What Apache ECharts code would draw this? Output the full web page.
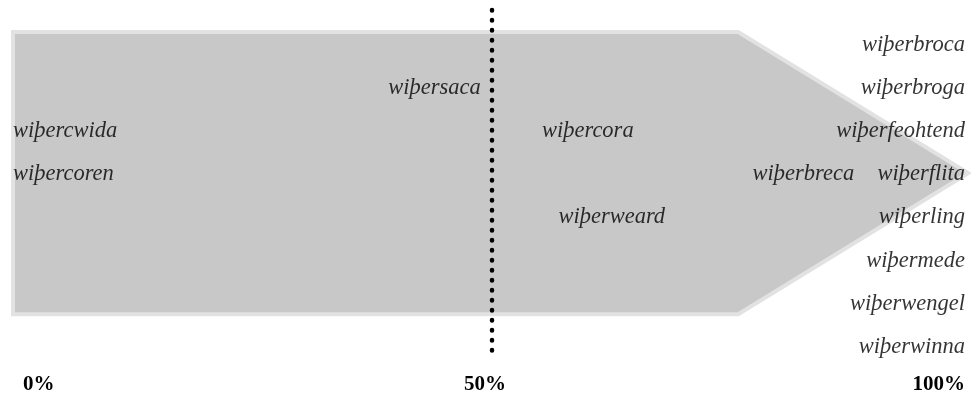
<!DOCTYPE html>
<html>
<head>
<meta charset="utf-8">
<script src="https://cdn.jsdelivr.net/npm/echarts@6/dist/echarts.min.js"></script>
<style>
  html, body { margin: 0; padding: 0; background: #fff; }
  #chart { width: 971px; height: 402px; }
</style>
</head>
<body>
<div id="chart"></div>
<script>
// words, their share on the 0-100% scale and the row they sit in
const words = ['wiþerbroca', 'wiþerbroga', 'wiþerfeohtend', 'wiþerflita', 'wiþerling', 'wiþermede',
  'wiþerwengel', 'wiþerwinna', 'wiþersaca', 'wiþercwida', 'wiþercora', 'wiþercoren', 'wiþerbreca', 'wiþerweard'];
const shares = [100, 100, 100, 100, 100, 100, 100, 100, 44, 0, 60, 0, 82.5, 62.5];
const rows = [1, 2, 3, 4, 5, 6, 7, 8, 2, 3, 3, 4, 4, 5];
const tickValues = [0, 50, 100];
const midLine = 50;
const midLineRows = [0.19, 8.19];
// arrow outline in data units [share, row]
const arrowPoints = [[0, 0.7], [75.7, 0.7], [99.7, 3.97], [75.7, 7.24], [0, 7.24]];

const chart = echarts.init(document.getElementById('chart'));

const serif = '"Liberation Serif", "Times New Roman", serif';

const wordData = words.map((w, i) => {
  const v = shares[i];
  let pos = 'inside';
  if (v === 0) pos = 'right';
  if (v === 100) pos = 'left';
  return {
    name: w,
    value: [v, rows[i]],
    label: { position: pos, distance: v === 100 ? 6 : 0 }
  };
});

const option = {
  animation: false,
  grid: { left: 13, right: 0, top: 45, bottom: 55 },
  xAxis: {
    type: 'value',
    min: 0,
    max: 100,
    interval: 50,
    splitLine: { show: false },
    axisLine: { show: false },
    axisTick: { show: false },
    axisLabel: {
      margin: 27,
      alignMinLabel: 'left',
      alignMaxLabel: 'right',
      formatter: function (v) {
        if (v === tickValues[0]) return '{a|' + v + '%}';
        if (v === tickValues[2]) return '{c|' + v + '%}';
        return '{b|' + v + '%}';
      },
      rich: {
        a: { fontFamily: serif, fontWeight: 'bold', fontSize: 21, color: '#000', padding: [0, 0, 0, 10] },
        b: { fontFamily: serif, fontWeight: 'bold', fontSize: 21, color: '#000', padding: [0, 14, 0, 0] },
        c: { fontFamily: serif, fontWeight: 'bold', fontSize: 21, color: '#000', padding: [0, 6, 0, 0] }
      }
    }
  },
  yAxis: {
    type: 'value',
    inverse: true,
    min: 1,
    max: 8,
    show: false
  },
  series: [
    {
      type: 'custom',
      silent: true,
      z: 1,
      clip: false,
      renderItem: function (params, api) {
        const pts = arrowPoints.map(p => api.coord(p));
        return {
          type: 'polygon',
          shape: { points: pts },
          style: {
            fill: '#c8c8c8',
            stroke: '#e2e2e2',
            lineWidth: 4
          }
        };
      },
      data: [0]
    },
    {
      // dotted 50% marker
      type: 'line',
      z: 2,
      clip: false,
      silent: true,
      symbol: 'none',
      data: midLineRows.map(r => [midLine, r]),
      lineStyle: { color: '#000', width: 4.5, type: [0.5, 9.5], cap: 'round' }
    },
    {
      type: 'scatter',
      z: 3,
      symbolSize: 0,
      data: wordData,
      label: {
        show: true,
        formatter: '{b}',
        fontFamily: serif,
        fontStyle: 'italic',
        fontSize: 22.5,
        color: '#000'
      }
    }
  ]
};

chart.setOption(option);
</script>
</body>
</html>
